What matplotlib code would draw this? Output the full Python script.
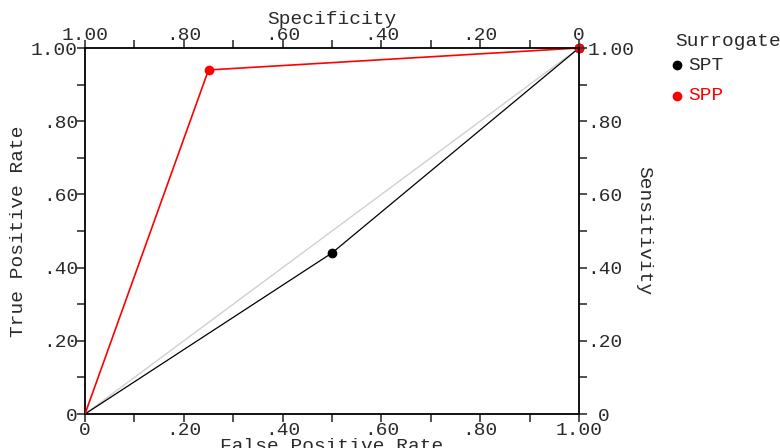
import matplotlib
matplotlib.use("Agg")
import matplotlib.pyplot as plt
import matplotlib.transforms as mtransforms
from matplotlib.ticker import MultipleLocator, FixedLocator

# Data
spt_fpr = [0.0, 0.50, 1.0]
spt_tpr = [0.0, 0.44, 1.0]
spp_fpr = [0.0, 0.25, 1.0]
spp_tpr = [0.0, 0.94, 1.0]
ticks = [0.0, 0.2, 0.4, 0.6, 0.8, 1.0]
tick_labels = ["0", ".20", ".40", ".60", ".80", "1.00"]
spec_labels = ["1.00", ".80", ".60", ".40", ".20", "0"]
series_names = ["SPT", "SPP"]

FONT = "Liberation Mono"
FS = 14
TXT = "#2a2a2a"
plt.rcParams["font.family"] = [FONT, "DejaVu Sans Mono"]

W, H = 780, 448
fig = plt.figure(figsize=(W / 100, H / 100), dpi=100)
ax = fig.add_axes([85 / W, 1 - 414 / H, (579 - 85) / W, (414 - 48) / H])

ax.plot([0, 1], [0, 1], color="#d0d0d0", lw=1.0, zorder=1)
ax.plot(spt_fpr, spt_tpr, color="black", lw=0.9, zorder=2)
ax.plot(spt_fpr[1:], spt_tpr[1:], "o", color="black", ms=6, zorder=3, clip_on=False)
ax.plot(spp_fpr, spp_tpr, color="red", lw=1.2, zorder=4)
ax.plot(spp_fpr[1:], spp_tpr[1:], "o", color="red", ms=6, zorder=5, clip_on=False)

ax.set_xlim(0, 1)
ax.set_ylim(0, 1)
for s in ["top", "right"]:
    ax.spines[s].set_visible(False)
for s in ["left", "bottom"]:
    ax.spines[s].set_linewidth(1.3)

ax.xaxis.set_major_locator(FixedLocator(ticks))
ax.yaxis.set_major_locator(FixedLocator(ticks))
ax.xaxis.set_minor_locator(MultipleLocator(0.1))
ax.yaxis.set_minor_locator(MultipleLocator(0.1))
ax.set_xticklabels(tick_labels)
ax.set_yticklabels(tick_labels)
ax.tick_params(which="both", direction="out", length=6, width=1.2, color="#333333",
               labelsize=FS, labelcolor=TXT)
ax.tick_params(axis="x", pad=0)
ax.tick_params(axis="y", pad=-1)

# top axis: specificity
axt = ax.twiny()
axt.set_xlim(1, 0)
axt.xaxis.set_major_locator(FixedLocator([1 - t for t in ticks]))
axt.xaxis.set_minor_locator(MultipleLocator(0.1))
axt.set_xticklabels(spec_labels)
axt.tick_params(which="both", direction="out", length=6, width=1.2, color="#333333",
                labelsize=FS, labelcolor=TXT, pad=-3)
axt.spines["top"].set_linewidth(1.3)
for s in ["left", "right", "bottom"]:
    axt.spines[s].set_visible(False)
axt.set_xlabel("Specificity", fontsize=FS, color=TXT, labelpad=2)

# right axis: sensitivity
axr = ax.twinx()
axr.set_ylim(0, 1)
axr.yaxis.set_major_locator(FixedLocator(ticks))
axr.yaxis.set_minor_locator(MultipleLocator(0.1))
axr.set_yticklabels(tick_labels)
axr.tick_params(which="both", direction="out", length=6, width=1.2, color="#333333",
                labelsize=FS, labelcolor=TXT, pad=0)
axr.spines["right"].set_linewidth(1.3)
for s in ["left", "top", "bottom"]:
    axr.spines[s].set_visible(False)
axr.set_ylabel("Sensitivity", fontsize=FS, color=TXT, rotation=270, labelpad=13)

# shift right-axis "0" label to the right so it clears the bottom "1.00"
zero_lab = axr.yaxis.get_majorticklabels()[0]
zero_lab.set_transform(zero_lab.get_transform() +
                       mtransforms.ScaledTranslation(11 / 100, 0, fig.dpi_scale_trans))

ax.set_xlabel("False Positive Rate", fontsize=FS, color=TXT, labelpad=-1)
ax.set_ylabel("True Positive Rate", fontsize=FS, color=TXT, labelpad=3)

# legend
fig.text(675 / W, 1 - 41 / H, "Surrogate", fontsize=FS, color=TXT, va="center", ha="left")
leg_colors = ["black", "red"]
leg_y = [65, 96]
for name, c, yy in zip(series_names, leg_colors, leg_y):
    fig.lines.append(plt.Line2D([677 / W], [1 - yy / H], marker="o", color=c, ms=6,
                                transform=fig.transFigure, linestyle="none"))
    fig.text(688 / W, 1 - yy / H, name, fontsize=FS, color=("#2a2a2a" if c == "black" else "red"),
             va="center", ha="left")

fig.savefig("out.png", dpi=100)
